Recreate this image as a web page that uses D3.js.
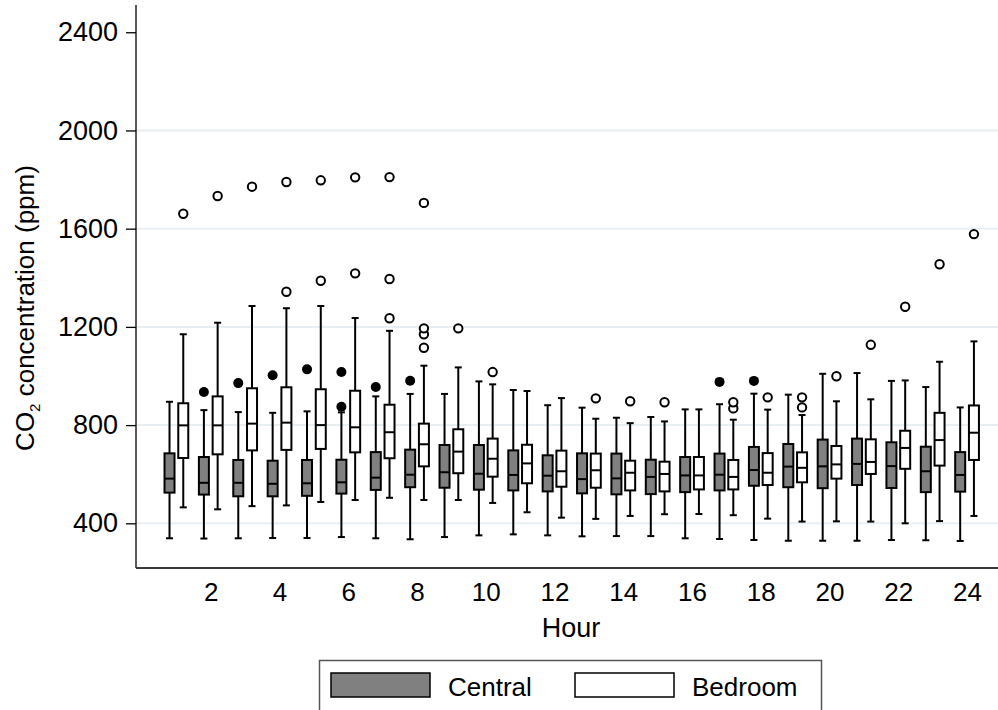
<!DOCTYPE html>
<html>
<head>
<meta charset="utf-8">
<script src="https://cdn.jsdelivr.net/npm/d3@7"></script>
<style>
  html, body { margin: 0; padding: 0; background: #fff; }
  svg { display: block; font-family: "Liberation Sans", Arial, Helvetica, sans-serif; }
</style>
</head>
<body>
<svg id="chart" width="998" height="710"></svg>
<script>
// Hourly CO2 concentration distributions (ppm), two rooms
const hours = d3.range(1, 25);
const yTicks = [400, 800, 1200, 1600, 2000, 2400];
const xTicks = [2, 4, 6, 8, 10, 12, 14, 16, 18, 20, 22, 24];
const seriesNames = ["Central", "Bedroom"];

// Central: lower whisker, Q1, median, Q3, upper whisker, outliers
const centralLow  = [339, 338, 339, 340, 340, 344, 339, 335, 344, 351, 355, 351, 347, 348, 348, 339, 336, 332, 329, 329, 329, 332, 331, 328];
const centralQ1   = [525, 517, 510, 510, 512, 521, 536, 547, 545, 537, 534, 530, 522, 518, 519, 527, 534, 553, 547, 543, 556, 544, 527, 529];
const centralMed  = [582, 565, 565, 561, 563, 567, 586, 598, 608, 602, 597, 594, 580, 583, 589, 595, 598, 617, 631, 632, 642, 633, 612, 597];
const centralQ3   = [685, 670, 658, 655, 658, 659, 690, 700, 719, 719, 697, 677, 685, 684, 659, 670, 684, 711, 723, 741, 745, 730, 712, 690];
const centralHigh = [895, 861, 853, 850, 856, 852, 917, 927, 927, 978, 943, 881, 871, 830, 833, 864, 885, 928, 924, 1009, 1012, 980, 955, 872];
const centralOut  = [[], [935], [971], [1003], [1027], [1016, 875], [955], [981], [], [], [], [], [], [], [], [], [976], [980], [], [], [], [], [], []];

// Bedroom: lower whisker, Q1, median, Q3, upper whisker, outliers
const bedroomLow  = [465, 457, 470, 473, 487, 495, 504, 495, 495, 483, 445, 423, 418, 430, 437, 438, 433, 419, 407, 408, 407, 400, 409, 430];
const bedroomQ1   = [666, 681, 697, 699, 703, 689, 665, 632, 604, 590, 563, 549, 545, 534, 530, 538, 538, 556, 567, 582, 601, 622, 635, 658];
const bedroomMed  = [799, 799, 806, 810, 800, 791, 771, 722, 692, 663, 644, 612, 616, 606, 601, 595, 589, 606, 626, 640, 650, 707, 739, 769];
const bedroomQ3   = [889, 917, 950, 954, 946, 940, 883, 806, 783, 745, 720, 696, 684, 655, 651, 670, 658, 686, 689, 715, 742, 777, 850, 880];
const bedroomHigh = [1170, 1217, 1285, 1276, 1285, 1236, 1184, 1042, 1035, 966, 939, 910, 826, 808, 815, 864, 822, 863, 841, 897, 905, 982, 1058, 1141];
const bedroomOut  = [[1661], [1733], [1771], [1343, 1790], [1388, 1797], [1418, 1809], [1235, 1395, 1810], [1115, 1170, 1194, 1705], [1194], [1016], [], [], [909], [897], [893], [], [868, 893], [913], [872, 913], [999], [1127], [1282], [1455], [1578]];

const svg = d3.select("#chart");

const plot = { left: 136, right: 998, top: 5, bottom: 568 };
const x = d3.scaleLinear().domain([-0.175, 24.9]).range([plot.left, plot.right]);
const y = d3.scaleLinear().domain([218, 2511]).range([plot.bottom, plot.top]);

// Gridlines
svg.append("g").selectAll("line")
  .data(yTicks.filter(v => v < 2400))
  .join("line")
  .attr("x1", plot.left).attr("x2", plot.right)
  .attr("y1", d => y(d)).attr("y2", d => y(d))
  .attr("stroke", "#e8eff2").attr("stroke-width", 2);

// Y axis
const yAxis = svg.append("g")
  .attr("transform", `translate(${plot.left},0)`)
  .call(d3.axisLeft(y).tickValues(yTicks).tickFormat(d3.format("d"))
    .tickSize(10).tickPadding(8).tickSizeOuter(0));
yAxis.select(".domain").remove();
yAxis.selectAll(".tick line").attr("stroke", "#000").attr("stroke-width", 1.3);
yAxis.selectAll(".tick text").attr("font-size", 27).attr("fill", "#000")
  .attr("font-family", "Liberation Sans, Arial, sans-serif");
svg.append("line")
  .attr("x1", plot.left).attr("x2", plot.left)
  .attr("y1", plot.top).attr("y2", plot.bottom)
  .attr("stroke", "#000").attr("stroke-width", 1.3);

// X axis
const xAxis = svg.append("g")
  .attr("transform", `translate(0,${plot.bottom})`)
  .call(d3.axisBottom(x).tickValues(xTicks).tickSize(0).tickPadding(15).tickSizeOuter(0));
xAxis.select(".domain").remove();
xAxis.selectAll(".tick text").attr("font-size", 26).attr("fill", "#000")
  .attr("font-family", "Liberation Sans, Arial, sans-serif");
svg.append("line")
  .attr("x1", plot.left).attr("x2", plot.right)
  .attr("y1", plot.bottom).attr("y2", plot.bottom)
  .attr("stroke", "#3a3a3a").attr("stroke-width", 2);

// Axis titles
svg.append("text")
  .attr("x", (plot.left + plot.right) / 2 + 4).attr("y", 637)
  .attr("text-anchor", "middle").attr("font-size", 27).attr("fill", "#000")
  .text("Hour");

const yTitle = svg.append("text")
  .attr("transform", "translate(34,308) rotate(-90)")
  .attr("text-anchor", "middle").attr("font-size", 26).attr("fill", "#000");
yTitle.append("tspan").text("CO");
yTitle.append("tspan").attr("font-size", 15).attr("dy", 6).text("2");
yTitle.append("tspan").attr("dy", -6).text(" concentration (ppm)");

// Box plots
const series = [
  { name: "Central", offset: -0.2, fill: "#808080",
    low: centralLow, q1: centralQ1, med: centralMed, q3: centralQ3, high: centralHigh, out: centralOut },
  { name: "Bedroom", offset: 0.2, fill: "#fff",
    low: bedroomLow, q1: bedroomQ1, med: bedroomMed, q3: bedroomQ3, high: bedroomHigh, out: bedroomOut }
];

const boxW = 10, capW = 7;
series.forEach(s => {
  const g = svg.append("g");
  hours.forEach((h, i) => {
    const cx = x(h + s.offset);
    // whiskers
    g.append("line").attr("x1", cx).attr("x2", cx)
      .attr("y1", y(s.high[i])).attr("y2", y(s.q3[i]))
      .attr("stroke", "#000").attr("stroke-width", 2);
    g.append("line").attr("x1", cx).attr("x2", cx)
      .attr("y1", y(s.q1[i])).attr("y2", y(s.low[i]))
      .attr("stroke", "#000").attr("stroke-width", 2);
    [s.high[i], s.low[i]].forEach(v => {
      g.append("line").attr("x1", cx - capW / 2).attr("x2", cx + capW / 2)
        .attr("y1", y(v)).attr("y2", y(v))
        .attr("stroke", "#000").attr("stroke-width", 2);
    });
    // box
    g.append("rect")
      .attr("x", cx - boxW / 2).attr("width", boxW)
      .attr("y", y(s.q3[i])).attr("height", y(s.q1[i]) - y(s.q3[i]))
      .attr("fill", s.fill).attr("stroke", "#000").attr("stroke-width", 2);
    // median
    g.append("line").attr("x1", cx - boxW / 2).attr("x2", cx + boxW / 2)
      .attr("y1", y(s.med[i])).attr("y2", y(s.med[i]))
      .attr("stroke", "#000").attr("stroke-width", 2);
    // outliers
    s.out[i].forEach(v => {
      if (s.name === "Central") {
        g.append("circle").attr("cx", cx).attr("cy", y(v)).attr("r", 5)
          .attr("fill", "#000");
      } else {
        g.append("circle").attr("cx", cx).attr("cy", y(v)).attr("r", 4.2)
          .attr("fill", "#fff").attr("stroke", "#000").attr("stroke-width", 2);
      }
    });
  });
});

// Legend
const legend = svg.append("g");
legend.append("rect")
  .attr("x", 319.5).attr("y", 660.5).attr("width", 502).attr("height", 70)
  .attr("fill", "#fff").attr("stroke", "#555").attr("stroke-width", 1.5);
const legendItems = [
  { label: seriesNames[0], fill: "#808080", sx: 331, tx: 448 },
  { label: seriesNames[1], fill: "#fff", sx: 575, tx: 692 }
];
legendItems.forEach(d => {
  legend.append("rect")
    .attr("x", d.sx).attr("y", 673).attr("width", 99).attr("height", 24)
    .attr("fill", d.fill).attr("stroke", "#000").attr("stroke-width", 1.5);
  legend.append("text")
    .attr("x", d.tx).attr("y", 696)
    .attr("font-size", 26).attr("fill", "#000")
    .text(d.label);
});
</script>
</body>
</html>
